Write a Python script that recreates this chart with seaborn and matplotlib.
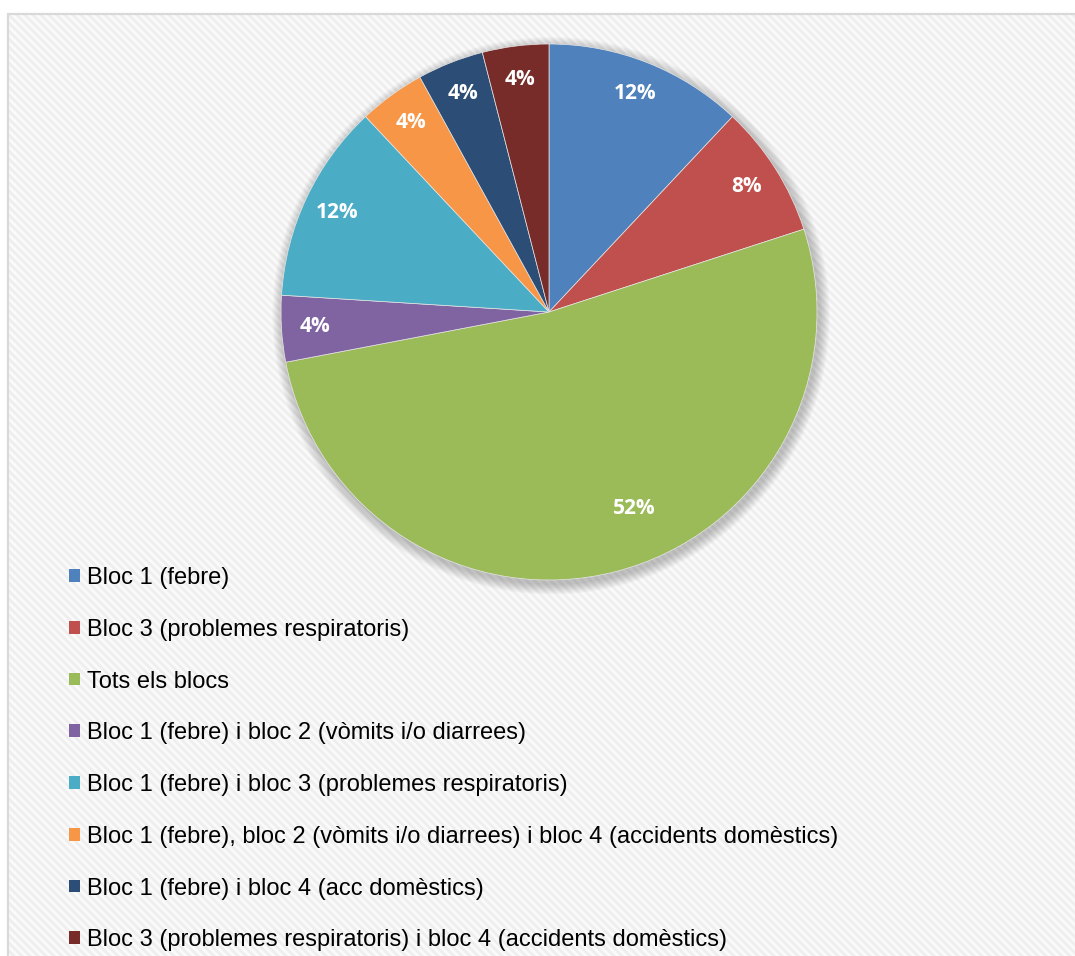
import numpy as np
import matplotlib
matplotlib.use("Agg")
import matplotlib.pyplot as plt
import seaborn as sns
from matplotlib.patches import Circle
from matplotlib.lines import Line2D

# Categories and shares (%)
categories = [
    "Bloc 1 (febre)",
    "Bloc 3 (problemes respiratoris)",
    "Tots els blocs",
    "Bloc 1 (febre) i bloc 2 (vòmits i/o diarrees)",
    "Bloc 1 (febre) i bloc 3 (problemes respiratoris)",
    "Bloc 1 (febre), bloc 2 (vòmits i/o diarrees) i bloc 4 (accidents domèstics)",
    "Bloc 1 (febre) i bloc 4 (acc domèstics)",
    "Bloc 3 (problemes respiratoris) i bloc 4 (accidents domèstics)",
]
shares = [12, 8, 52, 4, 12, 4, 4, 4]
colors = ["#4F81BD", "#C0504D", "#9BBB59", "#8064A2",
          "#4BACC6", "#F79646", "#2C4D75", "#772C2A"]

sns.set_theme(style="white")
plt.rcParams["font.family"] = ["Liberation Sans", "DejaVu Sans"]
plt.rcParams["text.color"] = "black"

W, H = 1075, 956
fig = plt.figure(figsize=(W / 100, H / 100), dpi=100)
fig.patch.set_facecolor("white")

# Background panel: fine diagonal stripe texture with a grey frame on top and left
bg = fig.add_axes([0, 0, 1, 1])
bg.set_xlim(0, W)
bg.set_ylim(H, 0)
bg.axis("off")
x0, y0 = 9, 15
yy, xx = np.mgrid[0:H - y0, 0:W - x0]
wave = 0.5 + 0.5 * np.cos(2 * np.pi * (xx - yy) / 8.0)
light, dark = 252 / 255, 237 / 255
tex = light - (light - dark) * wave
bg.imshow(np.dstack([tex, tex, tex]), extent=(x0, W, H, y0),
          interpolation="nearest", aspect="auto", zorder=0)
bg.add_line(Line2D([8, W], [14, 14], color="#d9d9d9", lw=1.6, zorder=1))
bg.add_line(Line2D([8, 8], [14, H], color="#d9d9d9", lw=1.6, zorder=1))
bg.set_xlim(0, W)
bg.set_ylim(H, 0)

# Pie axes
cx, cy, r = 549, 312, 268
ax = fig.add_axes([(cx - r) / W, (H - cy - r) / H, 2 * r / W, 2 * r / H])
ax.set_facecolor("none")

# soft drop shadow
for k in range(10):
    ax.add_patch(Circle((0.008, -0.014), 1.0 + 0.004 * (10 - k),
                        facecolor="#000000", alpha=0.025, lw=0,
                        zorder=0, clip_on=False))

wedges, texts, autotexts = ax.pie(
    shares, colors=colors, startangle=90, counterclock=False, radius=1,
    autopct=lambda p: f"{p:.0f}%", pctdistance=0.875,
    wedgeprops=dict(edgecolor="#e6e6e6", linewidth=0.5),
    textprops=dict(color="white", fontsize=15, fontweight="bold",
                   family=["Open Sans", "DejaVu Sans"]),
)
for w in wedges:
    w.set_zorder(2)
for t in autotexts:
    t.set_zorder(3)

# Largest slice: label placed toward its leading edge, further inside
big = int(np.argmax(shares))
wb = wedges[big]
ang = np.deg2rad(wb.theta2 - 0.452 * (wb.theta2 - wb.theta1))
autotexts[big].set_position((0.797 * np.cos(ang), 0.797 * np.sin(ang)))

ax.set_xlim(-1, 1)
ax.set_ylim(-1, 1)
ax.set_aspect("equal")
ax.axis("off")

# Legend
leg = fig.legend(
    wedges, categories, loc="upper left",
    bbox_to_anchor=(69 / W, (H - 567) / H),
    frameon=False, fontsize=17, handlelength=0.45, handleheight=0.45,
    handletextpad=0.3, labelspacing=1.26, borderpad=0, borderaxespad=0,
    labelcolor="black",
)
for h in leg.legend_handles:
    h.set_edgecolor("none")

fig.savefig("out.png", dpi=100)
